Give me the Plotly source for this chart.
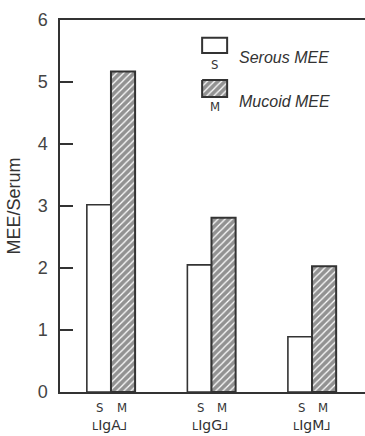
import plotly.graph_objects as go

groups = ["IgA", "IgG", "IgM"]
group_labels = ["IgA", "IgG", "IgM"]
serous = [3.02, 2.05, 0.89]
mucoid = [5.17, 2.81, 2.03]
series_names = ["Serous MEE", "Mucoid MEE"]
bar_letters = ["S", "M"]
y_ticks = [0, 1, 2, 3, 4, 5, 6]

INK = "#333333"
HATCH = "#262626"
FONT = "Liberation Sans, Arial, sans-serif"
NARROW = "DejaVu Sans Condensed, sans-serif"

fig = go.Figure()
fig.add_trace(go.Bar(x=groups, y=serous, name=series_names[0],
                     marker=dict(color="white", line=dict(color=INK, width=1.6)),
                     showlegend=False))
fig.add_trace(go.Bar(x=groups, y=mucoid, name=series_names[1],
                     marker=dict(color="white", line=dict(color=INK, width=2),
                                 pattern=dict(shape="/", fgcolor=HATCH, bgcolor="white",
                                              size=5, solidity=0.75)),
                     showlegend=False))

# custom legend key (hatched) on overlay axes in paper-like units
fig.add_trace(go.Scatter(x=[0.466, 0.548, 0.548, 0.466, 0.466],
                         y=[0.839, 0.839, 0.793, 0.793, 0.839],
                         xaxis="x2", yaxis="y2", mode="lines",
                         line=dict(color=INK, width=2), fill="toself",
                         fillcolor="white",
                         fillpattern=dict(shape="/", fgcolor=HATCH, bgcolor="white",
                                          size=5, solidity=0.75),
                         hoverinfo="skip", showlegend=False))

CORNER = "<span style='font-size:11px'>{}</span>"
annotations = []
for g, lab in zip(groups, group_labels):
    for k, letter in enumerate(bar_letters):
        annotations.append(dict(x=g, y=0, xref="x", yref="y", text=letter,
                                showarrow=False, xshift=(-11 if k == 0 else 11),
                                yshift=-15, yanchor="middle", borderpad=0,
                                font=dict(family=NARROW, size=13, color=INK)))
    annotations.append(dict(x=g, y=0, xref="x", yref="y",
                            text=CORNER.format("L") + lab + CORNER.format("⅃"),
                            showarrow=False, xshift=-1, yshift=-33, yanchor="middle",
                            borderpad=0,
                            font=dict(family="DejaVu Sans, sans-serif", size=14, color=INK)))

annotations += [
    dict(x=0.580, y=0.898, xref="paper", yref="paper", text="<i>" + series_names[0] + "</i>",
         showarrow=False, xanchor="left", yanchor="middle",
         font=dict(family=FONT, size=16, color=INK)),
    dict(x=0.580, y=0.782, xref="paper", yref="paper", text="<i>" + series_names[1] + "</i>",
         showarrow=False, xanchor="left", yanchor="middle",
         font=dict(family=FONT, size=16, color=INK)),
    dict(x=0.507, y=0.880, xref="paper", yref="paper", text=bar_letters[0],
         showarrow=False, xanchor="center", yanchor="middle",
         font=dict(family=NARROW, size=13, color=INK)),
    dict(x=0.507, y=0.767, xref="paper", yref="paper", text=bar_letters[1],
         showarrow=False, xanchor="center", yanchor="middle",
         font=dict(family=NARROW, size=13, color=INK)),
]

shapes = [dict(type="rect", xref="paper", yref="paper", x0=0.466, x1=0.548,
               y0=0.952, y1=0.911, line=dict(color=INK, width=2), fillcolor="white")]

fig.update_layout(
    width=365, height=436,
    margin=dict(l=60, r=0, t=20, b=44),
    paper_bgcolor="white", plot_bgcolor="white",
    barmode="group", bargap=0.52, bargroupgap=0,
    font=dict(family=FONT, color=INK),
    xaxis=dict(range=[-0.507, 2.527], showticklabels=False, ticks="",
               showline=True, linecolor=INK, linewidth=1.5, mirror=True,
               showgrid=False, zeroline=False),
    yaxis=dict(range=[0, 6], tickvals=y_ticks, ticks="inside", ticklen=13,
               tickwidth=1.5, tickcolor=INK, showline=True, linecolor=INK,
               linewidth=1.5, showgrid=False, zeroline=False,
               ticklabelstandoff=7,
               tickfont=dict(family=FONT, size=18, color="#444444"),
               title=dict(text="MEE/Serum", font=dict(family=FONT, size=18, color=INK),
                          standoff=12)),
    xaxis2=dict(overlaying="x", range=[0, 1], visible=False, fixedrange=True),
    yaxis2=dict(overlaying="y", range=[0, 1], visible=False, fixedrange=True),
    annotations=annotations,
    shapes=shapes,
)

fig.write_html("out.html", config={"displayModeBar": False},
               post_script="document.body.style.margin='0';document.body.style.overflow='hidden';")
